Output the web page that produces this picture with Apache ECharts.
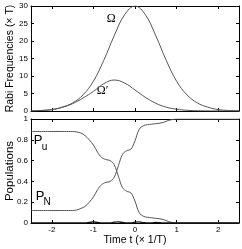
<!DOCTYPE html>
<html><head><meta charset="utf-8">
<script src="https://cdn.jsdelivr.net/npm/echarts@6/dist/echarts.min.js"></script>
<style>html,body{margin:0;padding:0;background:#fff}#c{width:242px;height:249px}</style>
</head><body><div id="c"></div>
<script>
// ---- data ----
const tRabi = [-2.5,-2.25,-2,-1.75,-1.5,-1.25,-1,-0.75,-0.5,-0.25,0,0.25,0.5,0.75,1,1.25,1.5,1.75,2,2.25,2.5];
const omega = [0.05,0.15,0.4,1.1,2.3,4.6,8.5,14.5,21.5,27.5,30,27.5,21.5,14.5,8.5,4.6,2.3,1.1,0.4,0.15,0.05];
const omegaPrime = [0.05,0.15,0.4,1.05,2.1,3.7,5.6,7.8,8.85,8.0,6.0,3.9,2.2,1.1,0.5,0.2,0.08,0.03,0.01,0,0];
const tPop = [-2.5,-2.4,-2.3,-2.2,-2.1,-2.0,-1.9,-1.8,-1.7,-1.6,-1.5,-1.4,-1.3,-1.2,-1.1,-1.0,-0.9,-0.8,-0.7,-0.6,-0.5,-0.4,-0.3,-0.2,-0.1,0,0.1,0.2,0.3,0.4,0.5,0.6,0.7,0.8,0.9,1.0,1.1,1.2,1.3,1.4,1.5,1.6,1.7,1.8,1.9,2.0,2.1,2.2,2.3,2.4,2.5];
const pU = [0.88,0.88,0.88,0.88,0.88,0.88,0.88,0.88,0.88,0.88,0.88,0.875,0.865,0.84,0.8,0.75,0.68,0.63,0.61,0.60,0.56,0.45,0.34,0.305,0.29,0.21,0.10,0.065,0.055,0.05,0.045,0.04,0.03,0.015,0.005,0,0,0,0,0,0,0,0,0,0,0,0,0,0,0,0];
const pN = [0.12,0.12,0.12,0.12,0.12,0.12,0.12,0.12,0.12,0.12,0.12,0.125,0.14,0.16,0.2,0.25,0.32,0.37,0.39,0.40,0.44,0.55,0.66,0.695,0.71,0.79,0.90,0.935,0.945,0.95,0.955,0.96,0.97,0.985,0.995,1,1,1,1,1,1,1,1,1,1,1,1,1,1,1,1];
const pOther = [0,0,0,0,0,0,0,0,0,0,0,0,0,0,0.005,0.01,0.005,0,0,0,0.008,0.01,0.005,0,0,0.008,0.01,0.004,0,0,0.006,0.003,0,0,0,0,0,0,0,0,0,0,0,0,0,0,0,0,0,0,0];
const xTicks = [-2,-1,0,1,2];
const rabiTicks = [0,5,10,15,20,25,30];
const popTicks = [0,0.2,0.4,0.6,0.8,1];

const FONT = "'Liberation Sans', Arial, sans-serif";
const pair = (xs, ys) => xs.map((x, i) => [x, ys[i]]);
const chart = echarts.init(document.getElementById('c'), null, {renderer: 'canvas'});

function xAx(grid, pos, labels, name) {
  return {
    type: 'value', gridIndex: grid, position: pos, min: -2.5, max: 2.5,
    axisLine: {show: true, onZero: false, lineStyle: {color: '#000', width: 1}},
    axisTick: {show: true, inside: true, length: 3, customValues: xTicks, lineStyle: {color: '#000'}},
    axisLabel: {show: labels, customValues: xTicks, fontSize: 8, color: '#000', margin: 3, fontFamily: FONT},
    splitLine: {show: false},
    name: name || '', nameLocation: 'middle', nameGap: 12, nameMoveOverlap: false,
    nameTextStyle: {fontSize: 10.5, color: '#000', fontFamily: FONT}
  };
}
function yAx(grid, pos, labels, min, max, ticks, name, nameSize, fmt) {
  return {
    type: 'value', gridIndex: grid, position: pos, min: min, max: max,
    axisLine: {show: true, onZero: false, lineStyle: {color: '#000', width: 1}},
    axisTick: {show: true, inside: true, length: 3, customValues: ticks, lineStyle: {color: '#000'}},
    axisLabel: {show: labels, customValues: ticks, fontSize: 8, color: '#000', margin: 3, fontFamily: FONT, formatter: fmt},
    splitLine: {show: false},
    name: name || '', nameLocation: 'middle', nameGap: 15, nameMoveOverlap: false,
    nameTextStyle: {fontSize: nameSize || 10.5, color: '#000', fontFamily: FONT}
  };
}
const lineS = (name, xi, yi, data, color, w) => ({
  name, type: 'line', xAxisIndex: xi, yAxisIndex: yi, data, showSymbol: false, symbol: 'none',
  smooth: 0.4, lineStyle: {color: color, width: w}, silent: true, animation: false
});

chart.setOption({
  animation: false,
  grid: [
    {left: 31, right: 3, top: 6, height: 105, outerBoundsMode: 'none', containLabel: false},
    {left: 31, right: 3, top: 119, height: 104, outerBoundsMode: 'none', containLabel: false}
  ],
  xAxis: [
    xAx(0, 'bottom', false), xAx(0, 'top', false),
    xAx(1, 'bottom', true, 'Time t (\u00d7 1/T)'), xAx(1, 'top', false)
  ],
  yAxis: [
    yAx(0, 'left', true, 0, 30, rabiTicks, 'Rabi Frequencies (\u00d7 T)', 10.5),
    yAx(0, 'right', false, 0, 30, rabiTicks),
    yAx(1, 'left', true, 0, 1, popTicks, 'Populations', 11.5, v => String(Number(v.toFixed(1)))),
    yAx(1, 'right', false, 0, 1, popTicks)
  ],
  series: [
    lineS('Omega', 0, 0, pair(tRabi, omega), '#555', 1),
    lineS('OmegaPrime', 0, 0, pair(tRabi, omegaPrime), '#555', 1),
    lineS('Pu', 2, 2, pair(tPop, pU), '#555', 1),
    lineS('PN', 2, 2, pair(tPop, pN), '#555', 1),
    lineS('Pother', 2, 2, pair(tPop, pOther), '#111', 1.3)
  ]
});

function px(grid, pt) { return chart.convertToPixel({gridIndex: grid}, pt); }
const a = px(0, [-0.57, 26.4]), b = px(0, [-0.78, 5.7]);
const c = px(1, [-2.33, 0.79]), d = px(1, [-2.28, 0.26]);
const serif = "'Liberation Serif', 'DejaVu Serif', serif";
chart.setOption({
  graphic: [
    {type: 'text', x: a[0], y: a[1], style: {text: '\u03a9', font: '12px ' + serif, fill: '#000', align: 'center', verticalAlign: 'middle'}},
    {type: 'text', x: b[0], y: b[1], style: {text: '\u03a9\u2032', font: '12px ' + serif, fill: '#000', align: 'center', verticalAlign: 'middle'}},
    {type: 'text', x: c[0], y: c[1], style: {text: 'P', font: '13px ' + FONT, fill: '#000', align: 'center', verticalAlign: 'middle'}},
    {type: 'text', x: c[0] + 6.5, y: c[1] + 6, style: {text: 'u', font: '10px ' + FONT, fill: '#000', align: 'center', verticalAlign: 'middle'}},
    {type: 'text', x: d[0], y: d[1], style: {text: 'P', font: '13px ' + FONT, fill: '#000', align: 'center', verticalAlign: 'middle'}},
    {type: 'text', x: d[0] + 7, y: d[1] + 6, style: {text: 'N', font: '10px ' + FONT, fill: '#000', align: 'center', verticalAlign: 'middle'}}
  ]
});
</script>
</body></html>
